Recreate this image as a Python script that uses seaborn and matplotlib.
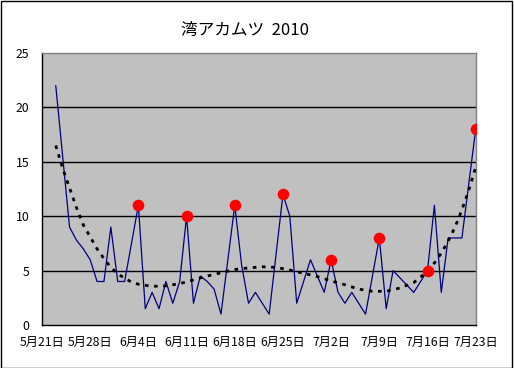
import matplotlib
matplotlib.use("Agg")
import matplotlib.pyplot as plt
from matplotlib.patches import Rectangle
import seaborn as sns
import pandas as pd

# ---- data ----
catch_dates = ["2010-05-23", "2010-05-25", "2010-05-26", "2010-05-27", "2010-05-28",
               "2010-05-29", "2010-05-30", "2010-05-31", "2010-06-01", "2010-06-02",
               "2010-06-04", "2010-06-05", "2010-06-06", "2010-06-07", "2010-06-08",
               "2010-06-09", "2010-06-10", "2010-06-11", "2010-06-12", "2010-06-13",
               "2010-06-14", "2010-06-15", "2010-06-16", "2010-06-18", "2010-06-19",
               "2010-06-20", "2010-06-21", "2010-06-23", "2010-06-25", "2010-06-26",
               "2010-06-27", "2010-06-29", "2010-07-01", "2010-07-02", "2010-07-03",
               "2010-07-04", "2010-07-05", "2010-07-07", "2010-07-09", "2010-07-10",
               "2010-07-11", "2010-07-14", "2010-07-16", "2010-07-17", "2010-07-18",
               "2010-07-19", "2010-07-21", "2010-07-22", "2010-07-23"]
catch_values = [22, 9, 7.8, 7, 6,
                4, 4, 9, 4, 4,
                11, 1.5, 3, 1.5, 4,
                2, 4, 10, 2, 4.5,
                4, 3.3, 1, 11, 5.5,
                2, 3, 1, 12, 10,
                2, 6, 3, 6, 3,
                2, 3, 1, 8, 1.5,
                5, 3, 5, 11, 3,
                8, 8, 13, 18]

weekly_dates = ["2010-06-04", "2010-06-11", "2010-06-18", "2010-06-25",
                "2010-07-02", "2010-07-09", "2010-07-16", "2010-07-23"]
weekly_values = [11, 10, 11, 12, 6, 8, 5, 18]

trend_dates = ["2010-05-23", "2010-05-24", "2010-05-25", "2010-05-26", "2010-05-27",
               "2010-05-28", "2010-05-29", "2010-05-30", "2010-05-31", "2010-06-01",
               "2010-06-02", "2010-06-03", "2010-06-04", "2010-06-06", "2010-06-08",
               "2010-06-10", "2010-06-12", "2010-06-14", "2010-06-16", "2010-06-18",
               "2010-06-20", "2010-06-22", "2010-06-24", "2010-06-26", "2010-06-28",
               "2010-06-30", "2010-07-02", "2010-07-04", "2010-07-06", "2010-07-08",
               "2010-07-10", "2010-07-12", "2010-07-14", "2010-07-15", "2010-07-16",
               "2010-07-17", "2010-07-18", "2010-07-19", "2010-07-20", "2010-07-21",
               "2010-07-22", "2010-07-23"]
trend_values = [16.5, 14.4, 12.6, 10.8, 9.2,
                8.1, 7.0, 6.1, 5.3, 4.7,
                4.3, 3.95, 3.75, 3.55, 3.6,
                3.8, 4.15, 4.5, 4.8, 5.1,
                5.25, 5.35, 5.3, 5.05, 4.75,
                4.45, 4.05, 3.7, 3.3, 3.1,
                3.1, 3.4, 3.9, 4.4, 5.0,
                5.7, 6.6, 7.7, 9.0, 10.6,
                12.4, 14.5]

x_ticks = pd.date_range("2010-05-21", "2010-07-23", freq="7D")
y_ticks = [0, 5, 10, 15, 20, 25]
title = "湾アカムツ  2010"

# ---- frames ----
catch = pd.DataFrame({"date": pd.to_datetime(catch_dates), "value": catch_values})
weekly = pd.DataFrame({"date": pd.to_datetime(weekly_dates), "value": weekly_values})
trend = pd.DataFrame({"date": pd.to_datetime(trend_dates), "value": trend_values})

sns.set_theme(style="white")
plt.rcParams["font.family"] = ["Noto Sans CJK JP", "DejaVu Sans"]

fig = plt.figure(figsize=(5.14, 3.68), dpi=100)
fig.patch.set_facecolor("white")
ax = fig.add_axes([42 / 514, 1 - 325 / 368, (475.7 - 42) / 514, (325 - 53) / 368])
ax.set_facecolor("#C0C0C0")

for yv in y_ticks[1:-1]:
    ax.axhline(yv, color="black", linewidth=1.0, zorder=1)

sns.lineplot(data=catch, x="date", y="value", ax=ax, color="#000080",
             linewidth=0.9, zorder=3, estimator=None)
sns.lineplot(data=trend, x="date", y="value", ax=ax, color="black",
             linewidth=2.0, linestyle=(0, (1.3, 2.0)), zorder=4, estimator=None)
sns.scatterplot(data=weekly, x="date", y="value", ax=ax, color="#FF0000",
                s=70, edgecolor="#FF0000", linewidth=0, zorder=5)

ax.set_xlim(pd.Timestamp("2010-05-21"), pd.Timestamp("2010-07-23"))
ax.set_ylim(0, 25)
ax.set_xticks(x_ticks)
ax.set_xticklabels([f"{d.month}月{d.day}日" for d in x_ticks], fontsize=8.8)
ax.set_yticks(y_ticks)
ax.set_yticklabels([str(v) for v in y_ticks], fontsize=8.8)
ax.set_xlabel("")
ax.set_ylabel("")

for side in ["top", "right"]:
    ax.spines[side].set_color("#808080")
    ax.spines[side].set_linewidth(1.0)
for side in ["left", "bottom"]:
    ax.spines[side].set_color("black")
    ax.spines[side].set_linewidth(1.0)

ax.tick_params(axis="x", direction="in", length=4, width=1, color="black",
               pad=8, labelcolor="black")
ax.tick_params(axis="y", direction="out", length=0, width=1, color="black",
               pad=9, labelcolor="black")

fig.text(245 / 514, 1 - 30 / 368, title, ha="center", va="center",
         fontsize=12, color="black")

fig.patches.append(Rectangle((0.001, 0.001), 0.996, 0.996, transform=fig.transFigure,
                             fill=False, edgecolor="black", linewidth=1.0))

fig.savefig("out.png", dpi=100)
